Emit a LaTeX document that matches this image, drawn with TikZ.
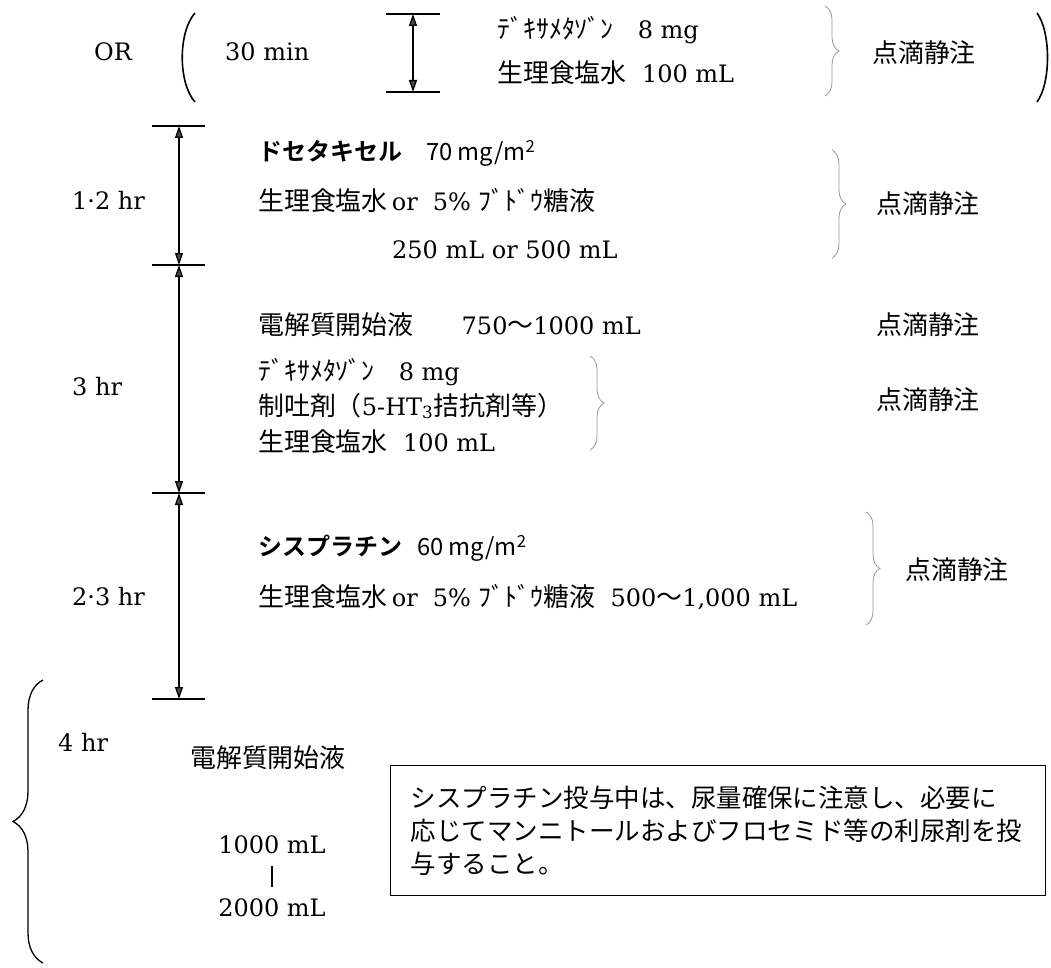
\documentclass[tikz,border=0pt]{standalone}
\usepackage{fontspec}
\setmainfont{DejaVu Serif}
\newfontfamily\jp{Noto Sans CJK JP}[Scale=1.08, BoldFont={Noto Sans CJK JP Bold}]
\usetikzlibrary{arrows.meta,decorations.pathreplacing}

\tikzset{
  lbl/.style={anchor=west, inner sep=0pt, font=\fontsize{24}{29}\selectfont},
  span/.style={{Triangle[open,fill=black!70,length=12pt,width=8pt]}-{Triangle[open,fill=black!70,length=12pt,width=8pt]}, line width=1.3pt},
  bar/.style={line width=1.8pt},
  grpbrace/.style={decorate, decoration={brace, amplitude=14pt}, gray!80, line width=0.8pt},
  paren/.style={line width=1.6pt},
  notebox/.style={draw, line width=1.3pt, anchor=north west, inner xsep=20pt,
    text width=615pt, minimum height=130pt, align=left,
    font=\jp\fontsize{23.6}{33}\selectfont},
}
\newcommand{\bold}[1]{{\jp\bfseries\fontsize{22.2}{28}\selectfont #1}}
\newcommand{\unit}[1]{{\jp\fontsize{22}{26}\selectfont #1}}

\begin{document}
\begin{tikzpicture}[x=1pt, y=-1pt]
    \useasboundingbox (0,0) rectangle (1051,968);

    % OR row
    \draw[paren] (195,13) .. controls (178,32) and (178,83) .. (195,102);
    \draw[paren] (1037,13) .. controls (1051,32) and (1051,83) .. (1037,102);
    \node[lbl] (or) at (94,52) {OR};
    \node[lbl] (min30) at (225,52) {30 min};
    \coordinate (o1) at (413,14);
    \coordinate (o2) at (413,92);
    \draw[bar] (386,14) -- (440,14);
    \draw[bar] (386,92) -- (440,92);
    \draw[span] (o1) -- (o2);
    \node[lbl] (dexa0) at (497,30) {{\jp ﾃﾞｷｻﾒﾀｿﾞﾝ}\quad 8 mg};
    \node[lbl] (sal0) at (497,73) {{\jp 生理食塩水}\ \ 100 mL};
    \draw[grpbrace] (825,6) -- (825,96);
    \node[lbl] (iv0) at (872,53) {\jp 点滴静注};

    % time axis
    \coordinate (a1) at (179,126);
    \coordinate (a2) at (179,265);
    \coordinate (a3) at (179,493);
    \coordinate (a4) at (179,699);
    \foreach \y in {126,265,493,699}
        \draw[bar] (152,\y) -- (205,\y);
    \draw[span] (a1) -- (a2);
    \draw[span] (a2) -- (a3);
    \draw[span] (a3) -- (a4);

    % docetaxel
    \node[lbl] (hr12) at (72,200) {1·2 hr};
    \node[lbl] (doce) at (258,153) {\bold{ドセタキセル}\quad\unit{70 mg/m\textsuperscript{2}}};
    \node[lbl] (sal1) at (258,200) {{\jp 生理食塩水}\,or\ \ 5\%\ {\jp ﾌﾞﾄﾞｳ糖液}};
    \node[lbl] (vol1) at (392,250) {250 mL or 500 mL};
    \draw[grpbrace] (832,150) -- (832,258);
    \node[lbl] (iv1) at (876,204) {\jp 点滴静注};

    % hydration and premedication
    \node[lbl] (hr3) at (72,387) {3 hr};
    \node[lbl] (elec1) at (258,325) {{\jp 電解質開始液}\qquad 750{\jp ～}1000 mL};
    \node[lbl] (iv2) at (876,325) {\jp 点滴静注};
    \node[lbl] (dexa1) at (258,372) {{\jp ﾃﾞｷｻﾒﾀｿﾞﾝ}\quad 8 mg};
    \node[lbl] (anti) at (258,406) {{\jp 制吐剤（}5-HT\textsubscript{3}{\jp 拮抗剤等）}};
    \node[lbl] (sal2) at (258,442) {{\jp 生理食塩水}\ \ 100 mL};
    \draw[grpbrace] (590,356) -- (590,450);
    \node[lbl] (iv3) at (876,400) {\jp 点滴静注};

    % cisplatin
    \node[lbl] (hr23) at (72,597) {2·3 hr};
    \node[lbl] (cis) at (258,548) {\bold{シスプラチン}\ \ \unit{60 mg/m\textsuperscript{2}}};
    \node[lbl] (sal3) at (258,597) {{\jp 生理食塩水}\,or\ \ 5\%\ {\jp ﾌﾞﾄﾞｳ糖液}\ \ 500{\jp ～}1,000 mL};
    \draw[grpbrace] (866,512) -- (866,625);
    \node[lbl] (iv4) at (905,570) {\jp 点滴静注};

    % post hydration
    \draw[decorate, decoration={brace, amplitude=30pt}, line width=1.3pt] (43,963) -- (43,680);
    \node[lbl] (hr4) at (58,742) {4 hr};
    \node[lbl] (elec2) at (190,758) {\jp 電解質開始液};
    \node[lbl, anchor=center] (v1000) at (272,845) {1000 mL};
    \node[lbl, anchor=center] (v2000) at (272,908) {2000 mL};
    \draw[line width=1.3pt, shorten <=12pt, shorten >=12pt] (v1000.south) -- (v2000.north);
    \node[notebox] (note) at (390,765) {シスプラチン投与中は、尿量確保に注意し、必要に\\応じてマンニトールおよびフロセミド等の利尿剤を投\\与すること。};
\end{tikzpicture}
\end{document}
